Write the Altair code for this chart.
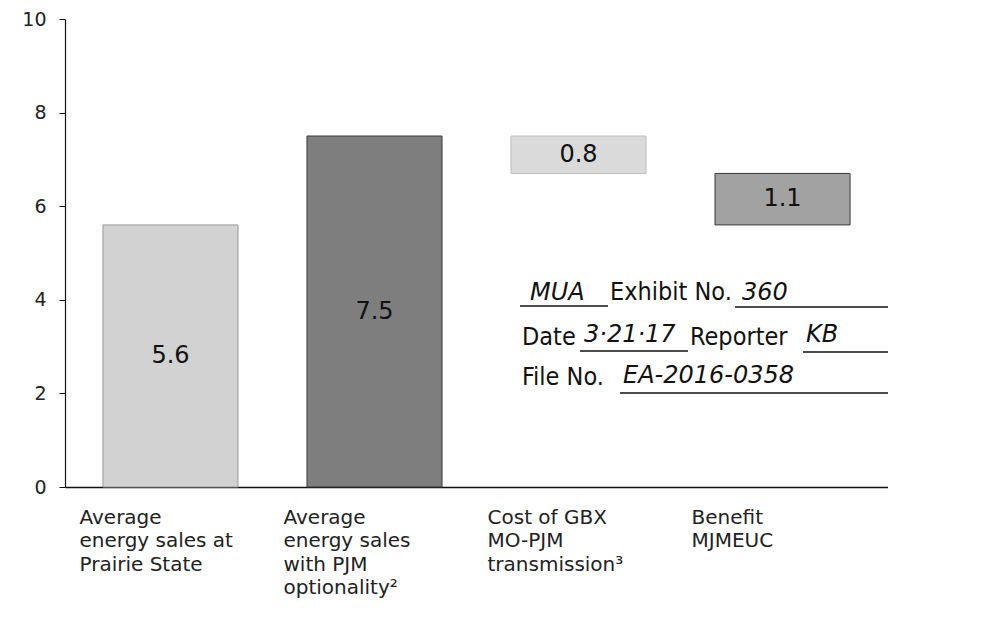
import altair as alt
import pandas as pd

categories = ["Average|energy sales at|Prairie State",
              "Average|energy sales|with PJM|optionality²",
              "Cost of GBX|MO-PJM|transmission³",
              "Benefit|MJMEUC"]
starts = [0.0, 0.0, 6.7, 5.6]
ends = [5.6, 7.5, 7.5, 6.7]
value_labels = ["5.6", "7.5", "0.8", "1.1"]
fills = ["#d2d2d2", "#7e7e7e", "#dadada", "#a2a2a2"]
strokes = ["#9a9a9a", "#3a3a3a", "#bdbdbd", "#3a3a3a"]
y_ticks = [0, 2, 4, 6, 8, 10]

df = pd.DataFrame({
    "cat": categories,
    "start": starts,
    "end": ends,
    "mid": [(a + b) / 2 for a, b in zip(starts, ends)],
    "label": value_labels,
    "fill": fills,
    "stroke": strokes,
})

FONT = "DejaVu Sans"
W, H = 823, 468

x_scale = alt.Scale(paddingInner=0.338, paddingOuter=0.186)
y_scale = alt.Scale(domain=[0, 10], nice=False)

x_axis = alt.Axis(title=None, labelAngle=0, ticks=False,
                  labelExpr="split(datum.label, '|')",
                  labelAlign="left", labelBaseline="top",
                  labelOffset=-91, labelPadding=20,
                  labelFont=FONT, labelFontSize=20, labelColor="#222",
                  labelLineHeight=23.5, labelLimit=300,
                  domainColor="#111", domainWidth=1.5, grid=False)
y_axis = alt.Axis(title=None, values=y_ticks, grid=False,
                  tickSize=6, tickColor="#111", labelPadding=13,
                  labelFont=FONT, labelFontSize=19, labelColor="#222",
                  domainColor="#111", domainWidth=1.2)

x_enc = alt.X("cat:N", sort=None, scale=x_scale, axis=x_axis)

bars = alt.Chart(df).mark_bar(strokeWidth=1).encode(
    x=x_enc,
    y=alt.Y("start:Q", scale=y_scale, axis=y_axis),
    y2="end:Q",
    fill=alt.Fill("fill:N", scale=None),
    stroke=alt.Stroke("stroke:N", scale=None),
)

texts = alt.Chart(df).mark_text(font=FONT, fontSize=24, color="#111").encode(
    x=x_enc,
    y=alt.Y("mid:Q", scale=y_scale, axis=y_axis),
    text="label:N",
)

# Exhibit stamp (annotation)
stamp_printed = ["Exhibit No.", "Date", "Reporter", "File No."]
stamp_hand = ["MUA", "360", "3·21·17", "KB", "EA-2016-0358"]

def stamp_text(txt, px, py, hand=False):
    return alt.Chart(pd.DataFrame({"t": [txt]})).mark_text(
        font="DejaVu Sans Condensed" if not hand else "DejaVu Sans",
        fontStyle="italic" if hand else "normal",
        fontSize=25 if not hand else 24,
        align="left", baseline="alphabetic", color="#111",
    ).encode(text="t:N", x=alt.value(px), y=alt.value(py))

def underline(x1, x2, py):
    return alt.Chart(pd.DataFrame({"a": [0]})).mark_rule(
        color="#111", strokeWidth=1.6).encode(
        x=alt.value(x1), x2=alt.value(x2), y=alt.value(py))

ox, oy = 65, 19
stamp_layers = [
    stamp_text(stamp_hand[0], 530 - ox, 300 - oy, hand=True),
    stamp_text(stamp_printed[0], 610 - ox, 300 - oy),
    stamp_text(stamp_hand[1], 742 - ox, 300 - oy, hand=True),
    stamp_text(stamp_printed[1], 522 - ox, 345 - oy),
    stamp_text(stamp_hand[2], 584 - ox, 342 - oy, hand=True),
    stamp_text(stamp_printed[2], 690 - ox, 345 - oy),
    stamp_text(stamp_hand[3], 806 - ox, 342 - oy, hand=True),
    stamp_text(stamp_printed[3], 522 - ox, 385 - oy),
    stamp_text(stamp_hand[4], 623 - ox, 383 - oy, hand=True),
    underline(520 - ox, 608 - ox, 306 - oy),
    underline(735 - ox, 962 - ox, 307 - oy),
    underline(580 - ox, 688 - ox, 351 - oy),
    underline(803 - ox, 962 - ox, 352 - oy),
    underline(620 - ox, 966 - ox, 393 - oy),
]

chart = alt.layer(bars, texts, *stamp_layers).properties(
    width=W, height=H,
    background="white",
    autosize=alt.AutoSizeParams(type="none"),
    padding={"left": ox - 8, "top": oy - 8, "right": 0, "bottom": 130},
).configure_view(stroke=None)

chart.save("out.html", embed_options={"renderer": "svg", "actions": False})
